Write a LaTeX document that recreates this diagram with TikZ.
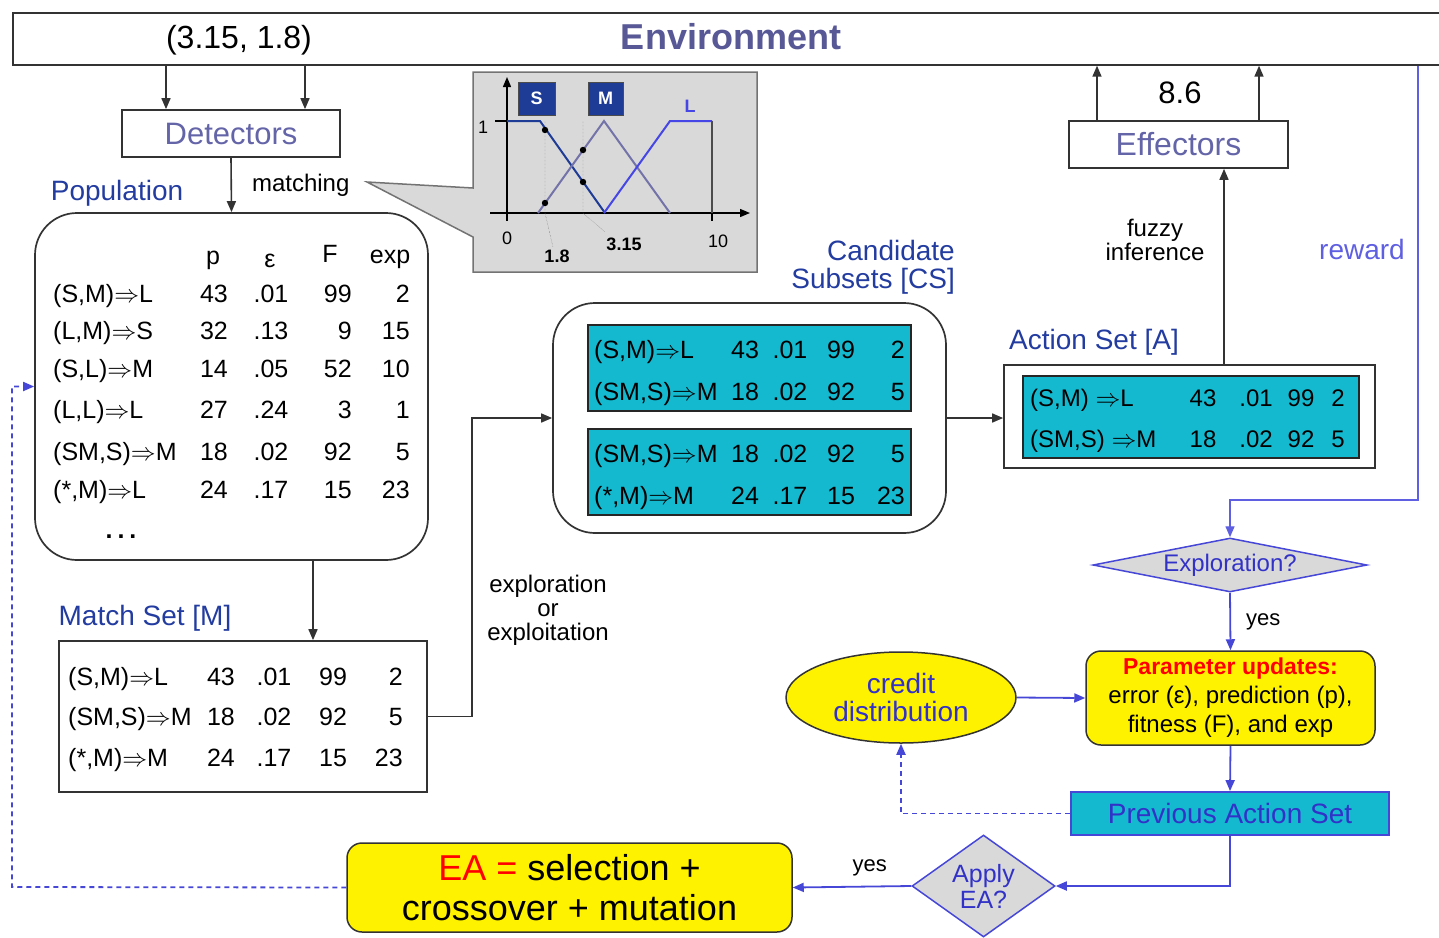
\documentclass[tikz,border=0pt]{standalone}
\usepackage{fontspec}
\setmainfont{Liberation Sans}
\usepackage{tikz}
\usetikzlibrary{positioning,arrows.meta,shapes.geometric,calc}
\definecolor{envblue}{RGB}{88,88,150}
\definecolor{detblue}{RGB}{100,100,168}
\definecolor{setblue}{RGB}{35,60,160}
\definecolor{flowblue}{RGB}{70,70,215}
\definecolor{rewblue}{RGB}{95,95,225}
\definecolor{txtblue}{RGB}{50,50,200}
\definecolor{cellcyan}{RGB}{20,185,208}
\definecolor{insetgray}{RGB}{217,217,217}
\definecolor{sblue}{RGB}{30,60,150}
\definecolor{mgray}{RGB}{115,115,170}
\definecolor{lblue}{RGB}{70,70,230}
\newcommand{\imp}{$\Rightarrow$}
\tikzset{
  box/.style={draw=black!80,line width=1.7pt,inner sep=0pt},
  rbox/.style={box,rounded corners=42pt},
  cyanbox/.style={draw=black!85,fill=cellcyan,line width=1.8pt,inner sep=0pt},
  ybox/.style={draw=black!80,fill=yellow,line width=1.5pt,rounded corners=15pt,inner sep=0pt,align=center},
  dmd/.style={diamond,draw=flowblue,fill=insetgray,line width=1.5pt,inner sep=0pt,align=center,text=txtblue},
  lbl/.style={inner sep=0pt,align=center},
  setlbl/.style={lbl,text=setblue,font=\fontsize{28}{28}\selectfont},
  cell/.style={inner sep=0pt,font=\fontsize{25}{25}\selectfont},
  arr/.style={-{Triangle[length=11pt,width=9pt]},line width=1.6pt,black!80},
  flow/.style={-{Triangle[length=11pt,width=9pt]},line width=1.8pt,flowblue},
  dflow/.style={flow,dash pattern=on 5pt off 4pt},
  tick/.style={line width=1.4pt,black}
}
\begin{document}
\begin{tikzpicture}[x=1pt,y=-1pt]
\useasboundingbox (0,0) rectangle (1439,937);
% environment, detectors
\node[box,anchor=north west,minimum width=1440,minimum height=52] (env) at (12,12) {};
\node[lbl,font=\fontsize{32}{32}\selectfont] (inp) at (239,40) {(3.15, 1.8)};
\node[lbl,text=envblue,font=\bfseries\fontsize{36}{36}\selectfont] (envlbl) at (731,37) {Environment};
\node[box,minimum width=218,minimum height=47,text=detblue,font=\fontsize{31}{31}\selectfont] (det) at (231,133.5) {Detectors};
\coordinate (d1) at (166,0); \coordinate (d2) at (305,0);
\draw[arr] (d1 |- env.south) -- (d1 |- det.north); \draw[arr] (d2 |- env.south) -- (d2 |- det.north);

% fuzzy sets inset
\draw[draw=black!55,fill=insetgray,line width=1.5pt] (473,72) -- (757,72) -- (757,272) -- (473,272) -- (473,237) -- (367,182) -- (473,188) -- cycle;
\draw[tick,-{Triangle[length=10pt,width=8pt]}] (507,217) -- (507,77);
\draw[tick,-{Triangle[length=10pt,width=8pt]}] (490,213) -- (750,213);
\draw[tick] (507,205) -- (507,221); \draw[tick] (712,205) -- (712,221); \draw[tick] (495,121) -- (507,121);
\draw[sblue,line width=2pt] (507,121) -- (540,121) -- (605,213);
\draw[mgray,line width=2pt] (538,213) -- (604,121) -- (670,213);
\draw[lblue,line width=2pt] (604,213) -- (670,121) -- (712,121);
\draw[black!70,line width=1.6pt] (712,121) -- (712,213);
\draw[black!60,densely dotted] (545,121) -- (545,213) -- (553,247);
\draw[black!60,densely dotted] (583,121) -- (583,213) -- (605,232);
\foreach \px/\py in {545/130,545/203,583/150,583/182} \fill (\px,\py) circle (3.2pt);
\node[lbl,font=\fontsize{18}{18}\selectfont] (one) at (483,127) {1};
\node[lbl,font=\fontsize{18}{18}\selectfont] (zero) at (507,238) {0};
\node[lbl,font=\fontsize{18}{18}\selectfont] (ten) at (718,241) {10};
\node[lbl,font=\bfseries\fontsize{18}{18}\selectfont] (x18) at (557,256) {1.8};
\node[lbl,font=\bfseries\fontsize{18}{18}\selectfont] (x315) at (624,244) {3.15};
\node[draw=black!70,fill=sblue,text=white,minimum width=37,minimum height=33,inner sep=0pt,font=\bfseries\fontsize{18}{18}\selectfont] (sS) at (536.5,98.5) {S};
\node[draw=black!70,fill=sblue,text=white,minimum width=35,minimum height=33,inner sep=0pt,font=\bfseries\fontsize{18}{18}\selectfont] (sM) at (605.5,98.5) {M};
\node[lbl,text=lblue,font=\bfseries\fontsize{18}{18}\selectfont] (sL) at (690,106) {L};

% population
\node[setlbl] (poplbl) at (117,193) {Population};
\node[rbox,minimum width=393,minimum height=347] (pop) at (231.5,386.5) {};
\draw[arr] (det.south) -- node[lbl,right=20pt,text=black,font=\fontsize{24}{24}\selectfont] (matchlbl) {matching} (pop.north);
\node[cell,anchor=base] (ph1) at (213,264) {p};
\node[cell,anchor=base] (ph2) at (270,267) {ε};
\node[cell,anchor=base] (ph3) at (330,262) {F};
\node[cell,anchor=base] (ph4) at (390,263) {exp};
\foreach \y/\rl/\p/\e/\f/\x [count=\i] in {302/{(S,M)\imp L}/43/.01/99/2, 339/{(L,M)\imp S}/32/.13/9/15,
  377/{(S,L)\imp M}/14/.05/52/10, 418/{(L,L)\imp L}/27/.24/3/1, 460/{(SM,S)\imp M}/18/.02/92/5, 498/{(*,M)\imp L}/24/.17/15/23}
{
  \node[cell,anchor=base west] (pr\i) at (53,\y) {\rl};
  \node[cell,anchor=base] (pp\i) at (214,\y) {\p};
  \node[cell,anchor=base] (pe\i) at (271,\y) {\e};
  \node[cell,anchor=base east] (pf\i) at (352,\y) {\f};
  \node[cell,anchor=base east] (px\i) at (410,\y) {\x};
}
\node[cell,anchor=base] (pdots) at (121,538) {\bfseries .\hspace{5pt}.\hspace{5pt}.};

% match set
\node[setlbl] (msetlbl) at (145,618) {Match Set [M]};
\node[box,minimum width=368,minimum height=151] (mset) at (243,716.5) {};
\coordinate (pm) at (313,0);
\draw[arr] (pm |- pop.south) -- (pm |- mset.north);
\foreach \y/\rl/\p/\e/\f/\x [count=\i] in {685/{(S,M)\imp L}/43/.01/99/2, 725/{(SM,S)\imp M}/18/.02/92/5, 766/{(*,M)\imp M}/24/.17/15/23}
{
  \node[cell,anchor=base west] (mr\i) at (68,\y) {\rl};
  \node[cell,anchor=base] (mp\i) at (221,\y) {\p};
  \node[cell,anchor=base] (me\i) at (274,\y) {\e};
  \node[cell,anchor=base] (mf\i) at (333,\y) {\f};
  \node[cell,anchor=base east] (mx\i) at (403,\y) {\x};
}

% candidate subsets
\node[setlbl,anchor=east,align=right] (cslbl) at (955,267) {Candidate\\Subsets [CS]};
\node[rbox,minimum width=393,minimum height=230] (cand) at (749.5,418) {};
\node[cyanbox,minimum width=323,minimum height=86] (cs1) at (749.5,368) {};
\node[cyanbox,minimum width=323,minimum height=86] (cs2) at (749.5,472) {};
\foreach \y/\rl/\p/\e/\f/\x [count=\i] in {358/{(S,M)\imp L}/43/.01/99/2, 400/{(SM,S)\imp M}/18/.02/92/5,
  462/{(SM,S)\imp M}/18/.02/92/5, 504/{(*,M)\imp M}/24/.17/15/23}
{
  \node[cell,anchor=base west] (cr\i) at (594,\y) {\rl};
  \node[cell,anchor=base] (cp\i) at (745,\y) {\p};
  \node[cell,anchor=base] (ce\i) at (790,\y) {\e};
  \node[cell,anchor=base] (cf\i) at (841,\y) {\f};
  \node[cell,anchor=base east] (cx\i) at (905,\y) {\x};
}
\draw[arr] (mset.east) -- ++(44,0) |- (cand.west);
\node[lbl,font=\fontsize{24}{24}\selectfont] (explbl) at (548,610) {exploration\\or\\exploitation};

% action set, effectors
\node[setlbl] (aslbl) at (1094,342) {Action Set [A]};
\node[box,minimum width=371,minimum height=103] (act) at (1189.5,416.5) {};
\node[cyanbox,minimum width=336,minimum height=82] (as1) at (1191,417) {};
\foreach \y/\rl/\p/\e/\f/\x [count=\i] in {406/{(S,M) \imp L}/43/.01/99/2, 447/{(SM,S) \imp M}/18/.02/92/5}
{
  \node[cell,anchor=base west,font=\fontsize{24}{24}\selectfont] (ar\i) at (1030,\y) {\rl};
  \node[cell,anchor=base,font=\fontsize{24}{24}\selectfont] (ap\i) at (1203,\y) {\p};
  \node[cell,anchor=base,font=\fontsize{24}{24}\selectfont] (ae\i) at (1256,\y) {\e};
  \node[cell,anchor=base,font=\fontsize{24}{24}\selectfont] (af\i) at (1301,\y) {\f};
  \node[cell,anchor=base,font=\fontsize{24}{24}\selectfont] (ax\i) at (1338,\y) {\x};
}
\draw[arr] (cand.east) -- (cand.east -| act.west);
\node[box,minimum width=219,minimum height=47,text=detblue,font=\fontsize{32}{32}\selectfont] (eff) at (1178.5,144.5) {Effectors};
\coordinate (fz) at (1224,0); \coordinate (o1) at (1097,0); \coordinate (o2) at (1259,0);
\draw[arr] (fz |- act.north) -- (fz |- eff.south);
\draw[arr] (o1 |- eff.north) -- (o1 |- env.south); \draw[arr] (o2 |- eff.north) -- (o2 |- env.south);
\node[lbl,font=\fontsize{31}{31}\selectfont] (outv) at (1180,93) {8.6};
\node[lbl,font=\fontsize{24}{21}\selectfont] (fuzlbl) at (1155,240) {fuzzy\\inference};
\node[lbl,text=rewblue,font=\fontsize{28}{28}\selectfont] (rewlbl) at (1362,249) {reward};

% reinforcement component
\node[dmd,aspect=5,minimum width=274,minimum height=54,font=\fontsize{24}{24}\selectfont] (expl) at (1230,565) {Exploration?};
\coordinate (rw) at (1418,500);
\draw[rewblue,line width=1.4pt,-{Triangle[length=11pt,width=9pt]}] (rw |- env.south) -- (rw) -| (expl.north);
\node[ybox,minimum width=289,minimum height=94,font=\fontsize{24}{29}\selectfont] (par) at (1230.5,698)
  {{\color{red}\bfseries\fontsize{23}{29}\selectfont Parameter updates:}\\error (ε), prediction (p),\\fitness (F), and exp};
\draw[flow] (expl.south) -- node[lbl,right=15pt,text=black,font=\fontsize{22}{22}\selectfont] (yes1) {yes} (par.north);
\node[ellipse,draw=black!80,fill=yellow,line width=1.5pt,minimum width=230,minimum height=91,inner sep=0pt,align=center,
  text=txtblue,font=\fontsize{28}{28}\selectfont] (credit) at (901,697.5) {credit\\distribution};
\draw[flow] (credit.east) -- (par.west);
\node[draw=flowblue,fill=cellcyan,line width=1.8pt,minimum width=318,minimum height=43,inner sep=0pt,text=txtblue,
  font=\fontsize{28}{28}\selectfont] (prev) at (1230,813.5) {Previous Action Set};
\draw[flow] (par.south) -- (prev.north);
\draw[dflow] (prev.west) -| (credit.south);

% evolutionary component
\node[dmd,aspect=1.4,minimum width=143,minimum height=102,font=\fontsize{25}{26}\selectfont] (apply) at (983.5,886) {Apply\\EA?};
\draw[flow] (prev.south) |- (apply.east);
\node[ybox,minimum width=445,minimum height=89,font=\fontsize{36}{40}\selectfont] (ea) at (569.5,887.5)
  {{\color{red}EA =} selection +\\crossover + mutation};
\draw[flow] (apply.west) -- node[lbl,above=10pt,pos=0.35,text=black,font=\fontsize{22}{22}\selectfont] (yes2) {yes} (ea.east);
\coordinate (fb) at (12,887);
\draw[dflow] (ea.west) -- (fb) |- (pop.west);
\end{tikzpicture}
\end{document}
